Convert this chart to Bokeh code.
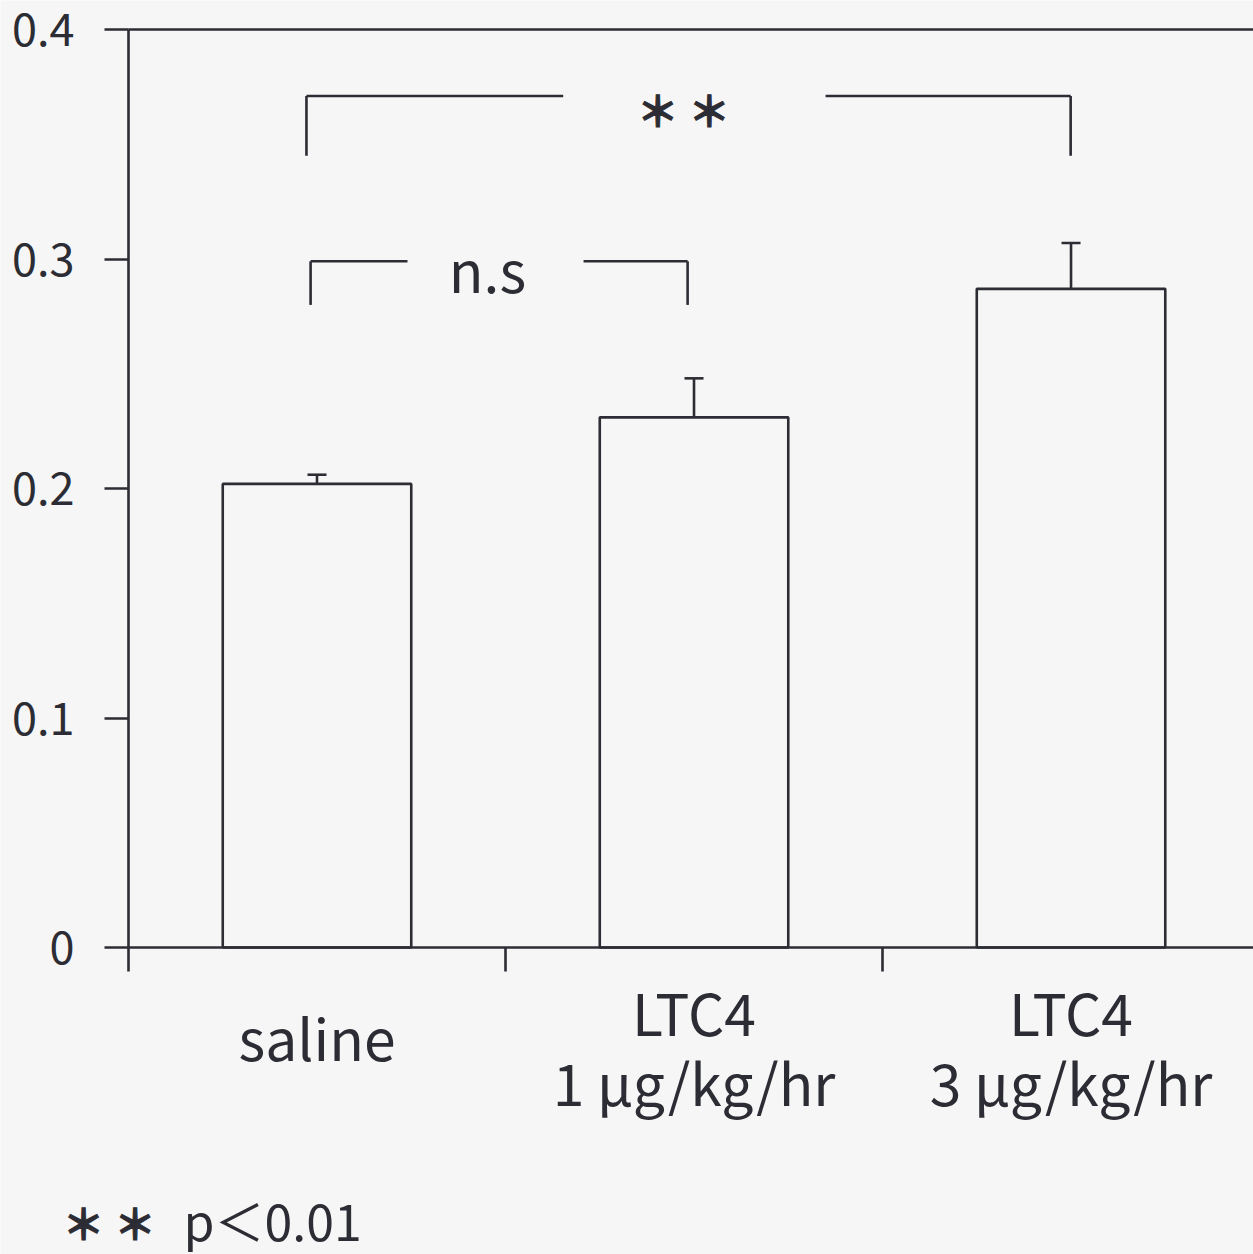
from bokeh.plotting import figure
from bokeh.models import (ColumnDataSource, Range1d, FixedTicker, LinearAxis,
                          Whisker, TeeHead, Label)
from bokeh.embed import file_html
from bokeh.resources import INLINE

# ---- data -------------------------------------------------------------
categories = ["saline", "LTC4\n1 μg/kg/hr", "LTC4\n3 μg/kg/hr"]
x_pos = [0.5, 1.5, 2.5]
means = [0.202, 0.231, 0.287]
sems = [0.004, 0.017, 0.020]

y_ticks = [0, 0.1, 0.2, 0.3, 0.4]
y_tick_labels = ["0", "0.1", "0.2", "0.3", "0.4"]
x_ticks = [0, 1, 2, 3]

# significance brackets
br_left = [0.472, 0.483]
br_right = [2.499, 1.483]
br_top = [0.371, 0.299]
br_bottom = [0.345, 0.280]
br_gap_left = [1.153, 0.740]
br_gap_right = [1.849, 1.207]
br_text = ["＊ ＊", "n.s"]
br_text_x = [1.472, 0.952]

footnote_marks = "＊ ＊"
footnote_text = "p＜0.01"

# ---- style / geometry ------------------------------------------------
FONT = "Noto Sans CJK JP"
INK = "#2c2c34"
BG = "#f6f6f6"
LW = 2.6

W, H = 1253, 1254
LEFT, TOP = 128, 29          # pixel position of the data origin's axes
FRAME_H = 918                # pixels from 0 to 0.4
X_END = 2.984
Y_END = 0.4
px_x = (W - LEFT) / X_END
px_y = FRAME_H / Y_END


def ypix(py):
    return (TOP + FRAME_H - py) / px_y


def xpix(px):
    return (px - LEFT) / px_x


p = figure(width=W, height=H,
           x_range=Range1d(xpix(0), xpix(W)), y_range=Range1d(ypix(H), ypix(0)),
           output_backend="svg", toolbar_location=None,
           min_border=0, min_border_left=0, min_border_right=0,
           min_border_top=0, min_border_bottom=0,
           x_axis_location=None, y_axis_location=None)
p.background_fill_color = BG
p.border_fill_color = BG
p.outline_line_color = None
p.xgrid.visible = False
p.ygrid.visible = False

# left axis at x = 0
yax = LinearAxis(ticker=FixedTicker(ticks=y_ticks), fixed_location=0, bounds=(0, Y_END),
                 major_label_overrides={t: l for t, l in zip(y_ticks, y_tick_labels)})
yax.axis_line_color = INK
yax.axis_line_width = LW
yax.major_tick_line_color = INK
yax.major_tick_line_width = LW
yax.major_tick_out = 24
yax.major_tick_in = 0
yax.minor_tick_line_color = None
yax.major_label_standoff = 30
yax.major_label_text_font = FONT
yax.major_label_text_font_size = "45px"
yax.major_label_text_color = INK
p.add_layout(yax, "left")

# bottom axis at y = 0 (ticks between categories, no labels)
xax = LinearAxis(ticker=FixedTicker(ticks=x_ticks), fixed_location=0, bounds=(0, X_END))
xax.axis_line_color = INK
xax.axis_line_width = LW
xax.major_tick_line_color = INK
xax.major_tick_line_width = LW
xax.major_tick_out = 24
xax.major_tick_in = 0
xax.minor_tick_line_color = None
xax.major_label_text_color = None
xax.major_label_text_font_size = "1px"
xax.major_label_standoff = 0
p.add_layout(xax, "below")

# top line at y = 0.4
tax = LinearAxis(ticker=FixedTicker(ticks=[]), fixed_location=Y_END, bounds=(0, X_END))
tax.axis_line_color = INK
tax.axis_line_width = LW
tax.major_tick_line_color = None
tax.minor_tick_line_color = None
tax.major_label_text_font_size = "1px"
tax.major_label_text_color = None
p.add_layout(tax, "above")

# bars
src = ColumnDataSource(dict(x=x_pos, top=means,
                            upper=[m + s for m, s in zip(means, sems)]))
p.vbar(x="x", top="top", bottom=0, width=0.5, source=src,
       fill_color=None, line_color=INK, line_width=LW)

# error bars (upper only)
p.add_layout(Whisker(source=src, base="x", lower="top", upper="upper", dimension="height",
                     line_color=INK, line_width=LW, lower_head=None,
                     upper_head=TeeHead(size=19, line_color=INK, line_width=LW)))

# brackets
x0s, y0s, x1s, y1s = [], [], [], []
for l, r, t, b, gl, gr in zip(br_left, br_right, br_top, br_bottom, br_gap_left, br_gap_right):
    x0s += [l, l, gr, r]
    y0s += [b, t, t, t]
    x1s += [l, gl, r, r]
    y1s += [t, t, t, b]
p.segment(x0=x0s, y0=y0s, x1=x1s, y1=y1s, line_color=INK, line_width=LW)

# bracket texts
p.add_layout(Label(x=br_text_x[0], y=ypix(108), text=br_text[0], text_align="center",
                   text_baseline="middle", text_font=FONT, text_font_size="42px",
                   text_font_style="bold", text_color=INK, text_outline_color=INK))
p.add_layout(Label(x=br_text_x[1], y=ypix(267), text=br_text[1], text_align="center",
                   text_baseline="middle", text_font=FONT, text_font_size="57px",
                   text_color=INK))

# category labels below the axis
for cx, cat in zip(x_pos, categories):
    lines = cat.split("\n")
    n = len(lines)
    rows = [1035] if n == 1 else [1010 + 70 * i for i in range(n)]
    for line, row in zip(lines, rows):
        p.add_layout(Label(x=cx, y=ypix(row), text=line, text_align="center",
                           text_baseline="middle", text_font=FONT,
                           text_font_size="57px", text_color=INK))

# footnote
p.add_layout(Label(x=xpix(62), y=ypix(1221), text=footnote_marks, text_align="left",
                   text_baseline="middle", text_font=FONT, text_font_size="42px",
                   text_font_style="bold", text_color=INK, text_outline_color=INK))
p.add_layout(Label(x=xpix(183), y=ypix(1218), text=footnote_text, text_align="left",
                   text_baseline="middle", text_font=FONT, text_font_size="50px",
                   text_color=INK))

open("out.html", "w").write(file_html(p, INLINE))
